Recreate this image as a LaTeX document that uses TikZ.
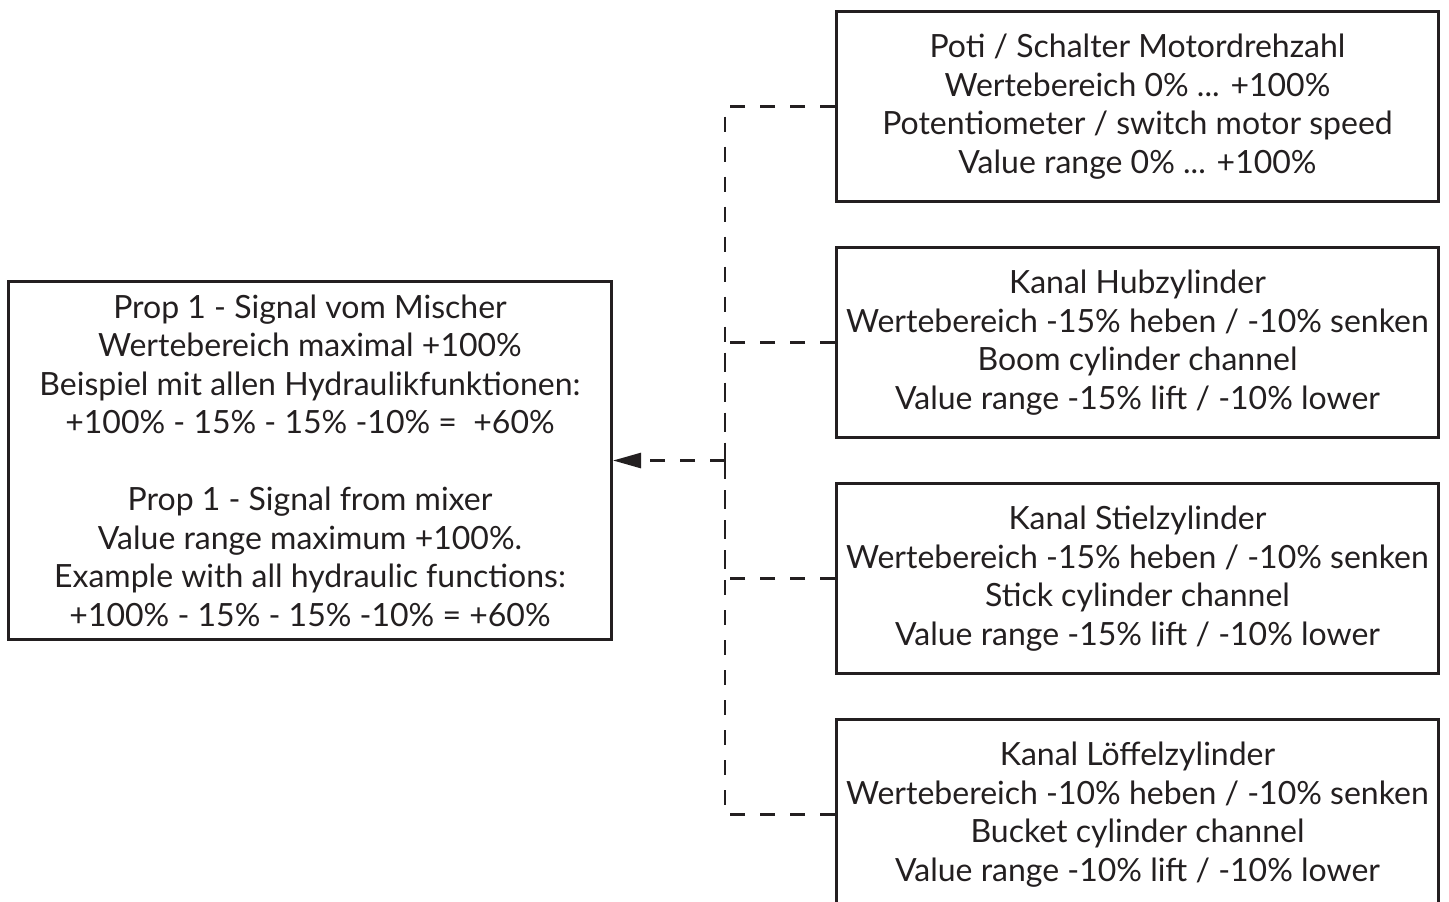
\documentclass[tikz,border=0pt]{standalone}
\usepackage{fontspec}
\setmainfont{Lato}
\usepackage{xcolor}
\usepackage{tikz}
\usetikzlibrary{positioning,arrows.meta}
\definecolor{ink}{HTML}{231F20}
\tikzset{box node/.style={rectangle,draw=ink,line width=1.5pt,text=ink,align=center,
    font=\fontsize{16}{19.25}\selectfont,inner sep=0pt,minimum width=301pt,minimum height=95pt},
  link/.style={draw=ink,line width=1.4pt,dash pattern=on 7.5pt off 7.5pt},}

\begin{document}
\begin{tikzpicture}[x=0.5pt,y=-0.5pt]
    \useasboundingbox (0,0) rectangle (1449,901);

    \node[box node,minimum width=301.5pt,minimum height=179pt] (1) at (310,460.5)
      {Prop 1 - Signal vom Mischer\\ Wertebereich maximal +100\%\\
       Beispiel mit allen Hydraulikfunktionen:\\ +100\% - 15\% - 15\% -10\% = \ +60\%\\[19.25pt]
       Prop 1 - Signal from mixer\\ Value range maximum +100\%.\\
       Example with all hydraulic functions:\\ +100\% - 15\% - 15\% -10\% = +60\%};

    \node[box node] (2) at (1137.5,106.5)
      {Poti / Schalter Motordrehzahl\\ Wertebereich 0\% ... +100\%\\
       Potentiometer / switch motor speed\\ Value range 0\% ... +100\%};
    \node[box node] (3) [below = 21.5pt of 2]
      {Kanal Hubzylinder\\ Wertebereich -15\% heben / -10\% senken\\
       Boom cylinder channel\\ Value range -15\% lift / -10\% lower};
    \node[box node] (4) [below = 21.5pt of 3]
      {Kanal Stielzylinder\\ Wertebereich -15\% heben / -10\% senken\\
       Stick cylinder channel\\ Value range -15\% lift / -10\% lower};
    \node[box node] (5) [below = 21.5pt of 4]
      {Kanal Löffelzylinder\\ Wertebereich -10\% heben / -10\% senken\\
       Bucket cylinder channel\\ Value range -10\% lift / -10\% lower};

    \coordinate (b) at (725,460.5);

    \path[link]
    (2.west) -| (b)
    (3.west) -| (b)
    (4.west) -| (b)
    (5.west) -| (b)
    ;
    \draw[link,-{Triangle[length=14pt,width=7.5pt]}] (b) -- (1.east);
\end{tikzpicture}
\end{document}
